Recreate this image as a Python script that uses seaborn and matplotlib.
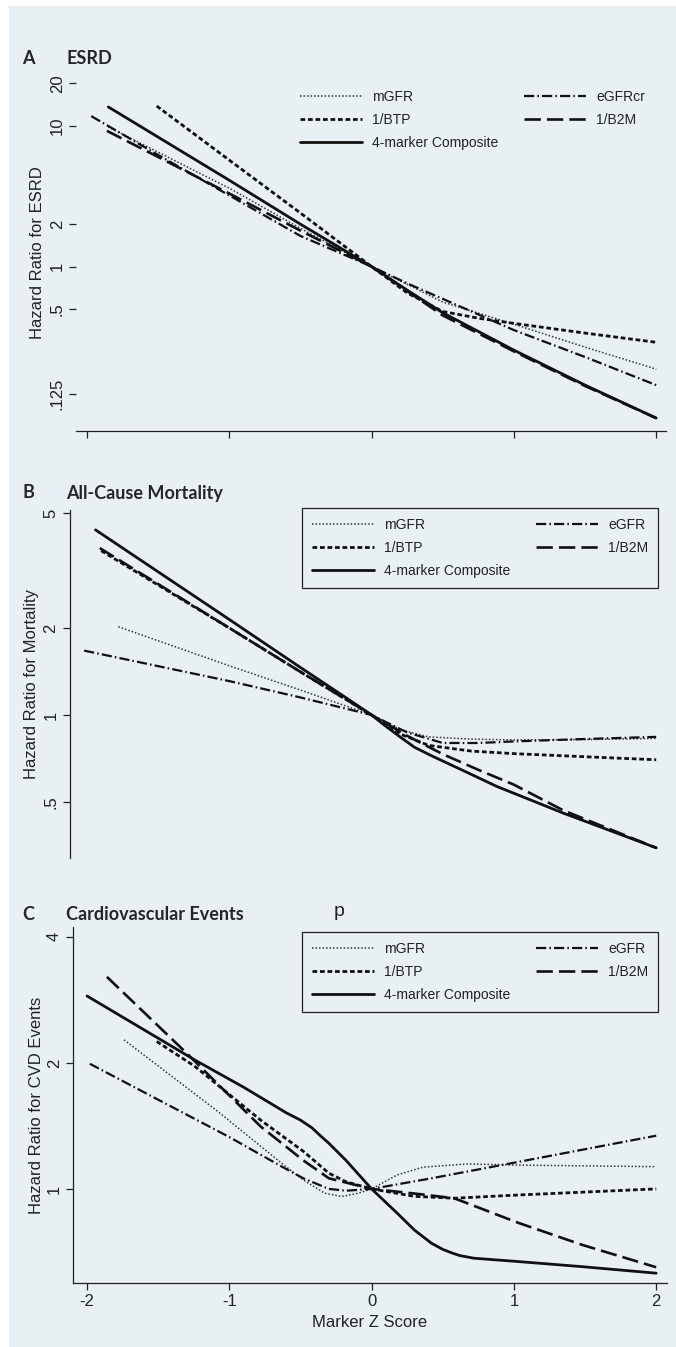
"""
Hazard ratios by marker Z score: ESRD, all-cause mortality and CVD events.
Three stacked panels, log-scaled y axis, Stata-like styling.
"""
import numpy as np
import pandas as pd
import matplotlib
matplotlib.use('Agg')
import matplotlib.pyplot as plt
from matplotlib.patches import Rectangle
from matplotlib.ticker import FixedLocator, FixedFormatter, NullLocator
import seaborn as sns

W, H = 676, 1347
BG = '#e8f0f3'
INK = '#111111'

SERIES = ["mGFR", "1/BTP", "4-marker Composite", "eGFR", "1/B2M"]

# Panel A – ESRD
A_MGFR_Z = [-1.85, -1.0, -0.5, 0.0, 0.5, 1.0, 1.5, 2.0]
A_MGFR_HR = [9.8, 3.6, 1.87, 1.0, 0.56, 0.39, 0.268, 0.187]
A_BTP_Z = [-1.51, -1.0, -0.5, 0.0, 0.25, 0.5, 0.75, 1.0, 1.5, 2.0]
A_BTP_HR = [13.8, 5.7, 2.4, 1.0, 0.65, 0.48, 0.43, 0.395, 0.337, 0.29]
A_COMP_Z = [-1.85, -1.0, -0.5, 0.0, 0.25, 0.5, 1.0, 1.5, 2.0]
A_COMP_HR = [13.6, 4.1, 2.0, 1.0, 0.68, 0.47, 0.255, 0.144, 0.084]
A_EGFR_Z = [-1.97, -1.5, -1.0, -0.5, 0.0, 0.25, 0.5, 1.0, 1.5, 2.0]
A_EGFR_HR = [11.7, 6.2, 3.2, 1.65, 1.0, 0.76, 0.59, 0.354, 0.228, 0.144]
A_B2M_Z = [-1.86, -1.5, -1.0, -0.5, 0.0, 0.5, 1.0, 1.5, 2.0]
A_B2M_HR = [9.2, 6.0, 3.3, 1.8, 1.0, 0.45, 0.25, 0.142, 0.084]

# Panel B – all-cause mortality
B_MGFR_Z = [-1.78, -1.0, -0.5, 0.0, 0.2, 0.4, 0.7, 1.0, 1.5, 2.0]
B_MGFR_HR = [2.02, 1.48, 1.22, 1.0, 0.89, 0.84, 0.825, 0.82, 0.822, 0.83]
B_BTP_Z = [-1.9, -1.0, -0.5, 0.0, 0.2, 0.4, 0.7, 1.0, 1.5, 2.0]
B_BTP_HR = [3.7, 2.0, 1.41, 1.0, 0.86, 0.785, 0.75, 0.735, 0.717, 0.70]
B_COMP_Z = [-1.94, -1.0, -0.5, -0.2, 0.0, 0.1, 0.2, 0.3, 0.41, 0.65, 0.88, 1.35, 2.0]
B_COMP_HR = [4.37, 2.14, 1.46, 1.165, 1.0, 0.914, 0.84, 0.774, 0.727, 0.64, 0.566, 0.457, 0.347]
B_EGFR_Z = [-2.02, -1.0, -0.5, 0.0, 0.25, 0.5, 0.75, 1.0, 1.5, 2.0]
B_EGFR_HR = [1.67, 1.31, 1.15, 1.0, 0.87, 0.80, 0.80, 0.81, 0.826, 0.84]
B_B2M_Z = [-1.91, -1.0, -0.5, 0.0, 0.25, 0.5, 0.75, 1.0, 1.35, 2.0]
B_B2M_HR = [3.78, 2.0, 1.41, 1.0, 0.847, 0.732, 0.646, 0.574, 0.467, 0.347]

# Panel C – cardiovascular events
C_MGFR_Z = [-1.74, -1.09, -0.63, -0.48, -0.33, -0.21, -0.09, 0.0, 0.18, 0.36, 0.67, 1.03, 2.0]
C_MGFR_HR = [2.27, 1.54, 1.15, 1.05, 0.977, 0.959, 0.977, 1.0, 1.08, 1.127, 1.147, 1.14, 1.13]
C_BTP_Z = [-1.51, -1.24, -0.78, -0.48, -0.3, -0.18, 0.0, 0.3, 0.58, 1.03, 2.0]
C_BTP_HR = [2.25, 1.96, 1.46, 1.23, 1.09, 1.04, 1.0, 0.96, 0.95, 0.967, 1.0]
C_COMP_Z = [-2.0, -1.24, -0.9, -0.6, -0.5, -0.42, -0.36, -0.3, -0.18, 0.0, 0.18, 0.3,
            0.42, 0.5, 0.57, 0.62, 0.72, 1.02, 1.48, 2.0]
C_COMP_HR = [2.89, 2.03, 1.75, 1.52, 1.46, 1.40, 1.34, 1.285, 1.17, 1.0, 0.875, 0.798,
             0.742, 0.717, 0.702, 0.693, 0.683, 0.671, 0.652, 0.629]
C_EGFR_Z = [-1.98, -1.0, -0.63, -0.48, -0.3, -0.18, 0.0, 0.42, 1.03, 2.0]
C_EGFR_HR = [1.99, 1.33, 1.13, 1.06, 1.0, 0.99, 1.0, 1.06, 1.16, 1.34]
C_B2M_Z = [-1.86, -1.3, -0.78, -0.48, -0.3, 0.0, 0.3, 0.58, 1.03, 1.48, 2.0]
C_B2M_HR = [3.21, 2.11, 1.41, 1.17, 1.06, 1.0, 0.975, 0.95, 0.83, 0.735, 0.65]

X_TICKS = [-2, -1, 0, 1, 2]
A_YTICKS = [0.125, 0.5, 1, 2, 10, 20]
A_YLABELS = ['.125', '.5', '1', '2', '10', '20']
B_YTICKS = [0.5, 1, 2, 5]
B_YLABELS = ['.5', '1', '2', '5']
C_YTICKS = [1, 2, 4]
C_YLABELS = ['1', '2', '4']

STYLES = {
    "mGFR": dict(linewidth=1.1, linestyle=(0, (1.0, 1.3)), color='#333333'),
    "1/BTP": dict(linewidth=2.0, linestyle=(0, (1.7, 1.0)), color=INK),
    "4-marker Composite": dict(linewidth=2.0, linestyle='-', color=INK),
    "eGFR": dict(linewidth=1.6, linestyle=(0, (4.6, 1.4, 0.7, 1.4)), color=INK),
    "1/B2M": dict(linewidth=1.9, linestyle=(0, (6.2, 2.3)), color=INK),
}


def long_frame(zs, hrs):
    rows = []
    for name, z, hr in zip(SERIES, zs, hrs):
        rows.append(pd.DataFrame({'z': z, 'hr': hr, 'marker': name}))
    return pd.concat(rows, ignore_index=True)


df_a = long_frame([A_MGFR_Z, A_BTP_Z, A_COMP_Z, A_EGFR_Z, A_B2M_Z],
                  [A_MGFR_HR, A_BTP_HR, A_COMP_HR, A_EGFR_HR, A_B2M_HR])
df_b = long_frame([B_MGFR_Z, B_BTP_Z, B_COMP_Z, B_EGFR_Z, B_B2M_Z],
                  [B_MGFR_HR, B_BTP_HR, B_COMP_HR, B_EGFR_HR, B_B2M_HR])
df_c = long_frame([C_MGFR_Z, C_BTP_Z, C_COMP_Z, C_EGFR_Z, C_B2M_Z],
                  [C_MGFR_HR, C_BTP_HR, C_COMP_HR, C_EGFR_HR, C_B2M_HR])

sns.set_style("ticks")
plt.rcParams['font.family'] = ['Liberation Sans', 'DejaVu Sans']
plt.rcParams['axes.edgecolor'] = '#222222'
plt.rcParams['xtick.color'] = '#222222'
plt.rcParams['ytick.color'] = '#222222'

fig = plt.figure(figsize=(W / 100, H / 100), dpi=100, facecolor='white')
fig.patches.append(Rectangle((9 / W, 0), 1 - 9 / W, 1 - 6 / H, transform=fig.transFigure,
                             facecolor=BG, edgecolor='none', zorder=-10))


def px_axes(left, top, right, bottom):
    return fig.add_axes([left / W, 1 - bottom / H, (right - left) / W, (bottom - top) / H])


def zpx(x):
    # pixel -> Z score (Z=-2 at x=87, Z=2 at x=656)
    return (x - 371.6) / 142.3


def draw_panel(ax, df, left, right, ylim, yticks, ylabels, ylabel, ylabel_x):
    for name in SERIES:
        sub = df[df['marker'] == name]
        sns.lineplot(data=sub, x='z', y='hr', ax=ax, estimator=None, sort=False,
                     label=name, **STYLES[name])
    ax.set_yscale('log')
    ax.set_xlim(zpx(left), zpx(right))
    ax.set_ylim(*ylim)
    ax.yaxis.set_major_locator(FixedLocator(yticks))
    ax.yaxis.set_major_formatter(FixedFormatter(ylabels))
    ax.yaxis.set_minor_locator(NullLocator())
    ax.set_facecolor('none')
    ax.tick_params(axis='y', length=5, width=0.9, pad=3, labelsize=12)
    ax.tick_params(axis='x', length=5, width=0.9, pad=3, labelsize=12)
    plt.setp(ax.get_yticklabels(), rotation=90, va='center')
    ax.set_xlabel('')
    ax.set_ylabel(ylabel, fontsize=12, va='center', color='#222222')
    ax.yaxis.set_label_coords((ylabel_x - left) / (right - left), 0.5)
    for s in ['top', 'right']:
        ax.spines[s].set_visible(False)
    for s in ['left', 'bottom']:
        ax.spines[s].set_linewidth(0.9)


def add_legend(ax, labels, left, top, frame):
    handles = ax.get_lines()[:len(labels)]
    leg = ax.legend(handles, labels, ncol=2, loc='upper left',
                    bbox_to_anchor=(left / W, 1 - top / H), bbox_transform=fig.transFigure,
                    frameon=frame, fancybox=False, shadow=False, fontsize=10,
                    handlelength=4.5, handletextpad=0.7, columnspacing=1.85,
                    labelspacing=0.66, borderpad=0.7, borderaxespad=0)
    if frame:
        leg.get_frame().set_edgecolor('#222222')
        leg.get_frame().set_linewidth(0.9)
        leg.get_frame().set_facecolor(BG)
        leg.get_frame().set_alpha(1)
    for t in leg.get_texts():
        t.set_color('#222222')
    return leg


def panel_title(y, letter, title):
    fig.text(22 / W, 1 - y / H, letter, family='Lato', weight='bold', fontsize=13, va='center')
    fig.text(66 / W, 1 - y / H, title, family='Lato', weight='bold', fontsize=13, va='center')


# Panel A
axA = px_axes(76, 74.8, 666, 431)
draw_panel(axA, df_a, 76, 666, (0.068, 23), A_YTICKS, A_YLABELS, 'Hazard Ratio for ESRD', 38)
axA.spines['left'].set_visible(False)
axA.set_xticks(X_TICKS)
axA.set_xticklabels([])
add_legend(axA, ["mGFR", "1/BTP", "4-marker Composite", "eGFRcr", "1/B2M"], 290, 80, False)
panel_title(59, 'A', 'ESRD')

# Panel B
axB = px_axes(69.5, 510, 666, 858)
draw_panel(axB, df_b, 69.5, 666, (0.32, 5.12), B_YTICKS, B_YLABELS, 'Hazard Ratio for Mortality', 32)
axB.spines['bottom'].set_visible(False)
axB.set_xticks([])
add_legend(axB, SERIES, 302, 508, True)
panel_title(493, 'B', 'All-Cause Mortality')

# Panel C
axC = px_axes(73, 926.7, 667, 1283.3)
draw_panel(axC, df_c, 73, 667, (0.595, 4.23), C_YTICKS, C_YLABELS, 'Hazard Ratio for CVD Events', 37)
axC.set_xticks(X_TICKS)
axC.set_xticklabels([str(t) for t in X_TICKS])
axC.set_xlabel('Marker Z Score', fontsize=12, color='#222222', labelpad=4)
add_legend(axC, SERIES, 302, 932, True)
panel_title(914, 'C', 'Cardiovascular Events')
fig.text(339 / W, 1 - 912 / H, 'p', fontsize=14, ha='center', va='center', color='#222222')

fig.savefig('out.png', dpi=100, facecolor=fig.get_facecolor())
plt.close(fig)
